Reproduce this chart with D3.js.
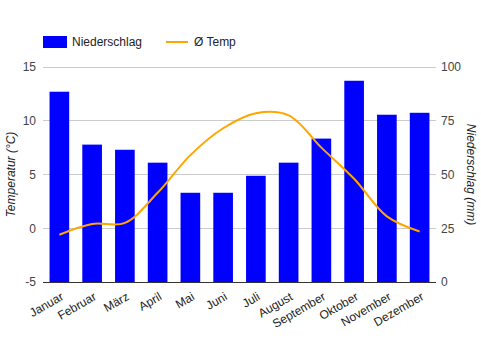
<!DOCTYPE html>
<html><head><meta charset="utf-8">
<script src="https://cdn.jsdelivr.net/npm/d3@7"></script>
<style>body{margin:0;background:#fff}svg{display:block;font-family:"Liberation Sans",Arial,sans-serif}</style>
</head><body>
<svg id="c" width="481" height="350"></svg>
<script>
const months = ["Januar","Februar","März","April","Mai","Juni","Juli","August","September","Oktober","November","Dezember"];
const precipitation = [88.5, 63.9, 61.5, 55.5, 41.5, 41.5, 49.4, 55.5, 66.7, 93.6, 77.8, 78.7];
const temperature = [-0.6, 0.4, 0.5, 3.3, 6.8, 9.3, 10.7, 10.5, 7.5, 4.6, 1.1, -0.3];
const tempTicks = [-5, 0, 5, 10, 15];
const precipTicks = [0, 25, 50, 75, 100];
const seriesNames = ["Niederschlag", "Ø Temp"];

const svg = d3.select("#c");
const L = 43, R = 436, T = 67, B = 282;
const x = d3.scaleBand().domain(months).range([L, R]).paddingInner(0.4).paddingOuter(0.2);
const yT = d3.scaleLinear().domain([-5, 15]).range([B, T]);
const yP = d3.scaleLinear().domain([0, 100]).range([B, T]);

// gridlines
svg.append("g").selectAll("line").data(tempTicks).join("line")
  .attr("x1", L).attr("x2", R).attr("y1", d => yT(d)).attr("y2", d => yT(d))
  .attr("stroke", "#cccccc").attr("stroke-width", 1).attr("shape-rendering", "crispEdges");

// left axis labels
const axL = svg.append("g").attr("transform", `translate(${L},0)`)
  .call(d3.axisLeft(yT).tickValues(tempTicks).tickFormat(d => String(d)).tickSize(0).tickPadding(7));
axL.select(".domain").remove();
axL.selectAll("text").attr("font-size", 12).attr("fill", "#444").attr("font-family", "Liberation Sans, Arial, sans-serif");

// right axis labels
const axR = svg.append("g").attr("transform", `translate(${R},0)`)
  .call(d3.axisRight(yP).tickValues(precipTicks).tickFormat(d => String(d)).tickSize(0).tickPadding(5));
axR.select(".domain").remove();
axR.selectAll("text").attr("font-size", 12).attr("fill", "#444").attr("font-family", "Liberation Sans, Arial, sans-serif");

// bars
svg.append("g").selectAll("rect").data(precipitation).join("rect")
  .attr("x", (d, i) => x(months[i])).attr("width", x.bandwidth())
  .attr("y", d => yP(d)).attr("height", d => yP(0) - yP(d))
  .attr("fill", "#0000ff");

// baseline
svg.append("line").attr("x1", L).attr("x2", R).attr("y1", B + 0.5).attr("y2", B + 0.5)
  .attr("stroke", "#333").attr("stroke-width", 1);

// temperature line
const line = d3.line()
  .x((d, i) => x(months[i]) + x.bandwidth() / 2)
  .y(d => yT(d))
  .curve(d3.curveCatmullRom.alpha(0.5));
svg.append("path").datum(temperature).attr("d", line)
  .attr("fill", "none").attr("stroke", "#ffa500").attr("stroke-width", 2);

// x labels
const axB = svg.append("g").attr("transform", `translate(0,${B})`)
  .call(d3.axisBottom(x).tickSize(0).tickPadding(0));
axB.select(".domain").remove();
axB.selectAll("text")
  .attr("font-size", 12).attr("fill", "#222").attr("font-family", "Liberation Sans, Arial, sans-serif")
  .attr("text-anchor", "end").attr("dy", 0)
  .attr("transform", "translate(5,17) rotate(-30)");

// axis titles
svg.append("text").attr("transform", `translate(15,${(T + B) / 2}) rotate(-90)`)
  .attr("text-anchor", "middle").attr("font-size", 12).attr("font-style", "italic").attr("fill", "#222")
  .text("Temperatur (°C)");
svg.append("text").attr("transform", `translate(467,${(T + B) / 2}) rotate(90)`)
  .attr("text-anchor", "middle").attr("font-size", 12).attr("font-style", "italic").attr("fill", "#222")
  .text("Niederschlag (mm)");

// legend
const lg = svg.append("g");
lg.append("rect").attr("x", 43).attr("y", 36).attr("width", 24).attr("height", 12).attr("fill", "#0000ff");
lg.append("text").attr("x", 72).attr("y", 46).attr("font-size", 12).attr("fill", "#222").text(seriesNames[0]);
lg.append("line").attr("x1", 166).attr("x2", 188).attr("y1", 42).attr("y2", 42).attr("stroke", "#ffa500").attr("stroke-width", 2);
lg.append("text").attr("x", 194).attr("y", 46).attr("font-size", 12).attr("fill", "#222").text(seriesNames[1]);
</script>
</body></html>
